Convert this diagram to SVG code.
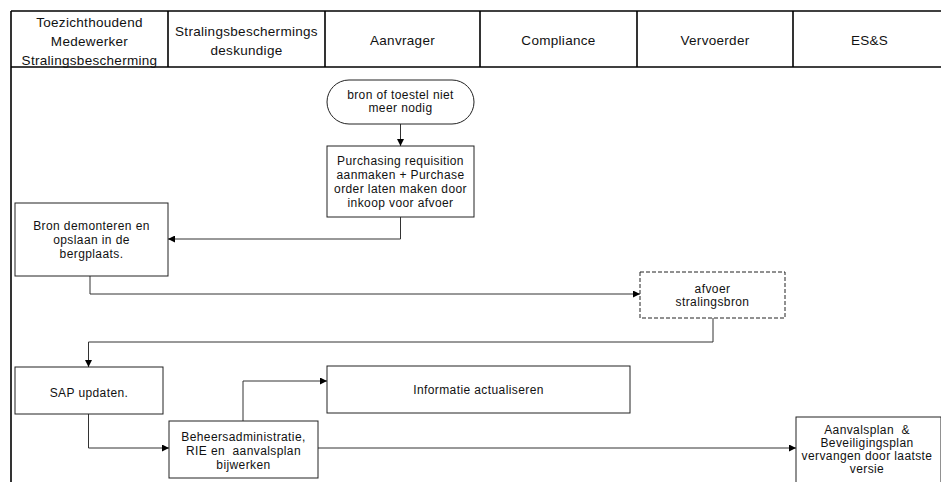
<svg xmlns="http://www.w3.org/2000/svg" width="941" height="482" viewBox="0 0 941 482">
<style>
.hdr{font-family:"Liberation Sans",Arial,sans-serif;font-size:13.5px;letter-spacing:0.3px;fill:#111;text-anchor:middle}
.t{font-family:"Liberation Sans",Arial,sans-serif;font-size:12px;letter-spacing:0.4px;fill:#111;text-anchor:middle}
.box{fill:#fff;stroke:#222;stroke-width:1}
.dash{fill:#fff;stroke:#222;stroke-width:1;stroke-dasharray:4,2}
.c{fill:none;stroke:#333;stroke-width:1;marker-end:url(#ah)}
.lane{stroke:#000;stroke-width:1.6;fill:none}
</style>
<defs>
<marker id="ah" viewBox="0 0 10 10" refX="10" refY="5" markerWidth="8" markerHeight="7" markerUnits="userSpaceOnUse" orient="auto">
<path d="M0,0 L10,5 L0,10 z" fill="#000"/>
</marker>
</defs>
<rect width="941" height="482" fill="#fff"/>
<g id="lanes">
<line class="lane" x1="11" y1="11" x2="946" y2="11"/>
<line class="lane" x1="11" y1="67" x2="946" y2="67" stroke-width="2.2"/>
<line class="lane" x1="11" y1="11" x2="11" y2="482"/>
<line class="lane" x1="168" y1="11" x2="168" y2="67"/>
<line class="lane" x1="325" y1="11" x2="325" y2="67"/>
<line class="lane" x1="480" y1="11" x2="480" y2="67"/>
<line class="lane" x1="637" y1="11" x2="637" y2="67"/>
<line class="lane" x1="793" y1="11" x2="793" y2="67"/>
<text class="hdr" x="89.5" y="27">Toezichthoudend</text>
<text class="hdr" x="89.5" y="46">Medewerker</text>
<text class="hdr" x="89.5" y="65">Stralingsbescherming</text>
<text class="hdr" x="246.5" y="36">Stralingsbeschermings</text>
<text class="hdr" x="246.5" y="55">deskundige</text>
<text class="hdr" x="402.5" y="45">Aanvrager</text>
<text class="hdr" x="558.5" y="45">Compliance</text>
<text class="hdr" x="715" y="45">Vervoerder</text>
<text class="hdr" x="869.5" y="45">ES&amp;S</text>
</g>
<g id="connectors">
<path class="c" d="M400.5,124 V146"/>
<path class="c" d="M400.5,217 V239 H168"/>
<path class="c" d="M90,276 V294 H640"/>
<path class="c" d="M713,318 V342 H88.5 V367"/>
<path class="c" d="M88.5,414 V448 H169"/>
<path class="c" d="M243,421 V381 H327"/>
<path class="c" d="M318,448 H796"/>
</g>
<g id="start">
<rect class="box" x="327" y="80" width="147" height="44" rx="22" ry="22"/>
<text class="t" x="400.5" y="99">bron of toestel niet</text>
<text class="t" x="400.5" y="112">meer nodig</text>
</g>
<g id="purchasing">
<rect class="box" x="327" y="146" width="147" height="71"/>
<text class="t" x="400.5" y="165">Purchasing requisition</text>
<text class="t" x="400.5" y="179">aanmaken + Purchase</text>
<text class="t" x="400.5" y="193">order laten maken door</text>
<text class="t" x="400.5" y="207">inkoop voor afvoer</text>
</g>
<g id="bron">
<rect class="box" x="15" y="203" width="153" height="73"/>
<text class="t" x="91.5" y="230">Bron demonteren en</text>
<text class="t" x="91.5" y="244">opslaan in de</text>
<text class="t" x="91.5" y="258">bergplaats.</text>
</g>
<g id="afvoer">
<rect class="dash" x="640" y="272" width="145" height="46"/>
<text class="t" x="712.5" y="293">afvoer</text>
<text class="t" x="712.5" y="306">stralingsbron</text>
</g>
<g id="sap">
<rect class="box" x="15" y="367" width="148" height="47"/>
<text class="t" x="89" y="397">SAP updaten.</text>
</g>
<g id="informatie">
<rect class="box" x="327" y="366" width="303" height="47"/>
<text class="t" x="478.5" y="394">Informatie actualiseren</text>
</g>
<g id="beheer">
<rect class="box" x="169" y="421" width="149" height="57"/>
<text class="t" x="243.5" y="441">Beheersadministratie,</text>
<text class="t" x="243.5" y="455" style="white-space:pre">RIE en  aanvalsplan</text>
<text class="t" x="243.5" y="469">bijwerken</text>
</g>
<g id="aanvalsplan">
<rect class="box" x="796" y="417" width="145" height="70"/>
<text class="t" x="867" y="434" style="white-space:pre">Aanvalsplan  &amp;</text>
<text class="t" x="867" y="447">Beveiligingsplan</text>
<text class="t" x="867" y="460">vervangen door laatste</text>
<text class="t" x="867" y="473">versie</text>
</g>
</svg>
